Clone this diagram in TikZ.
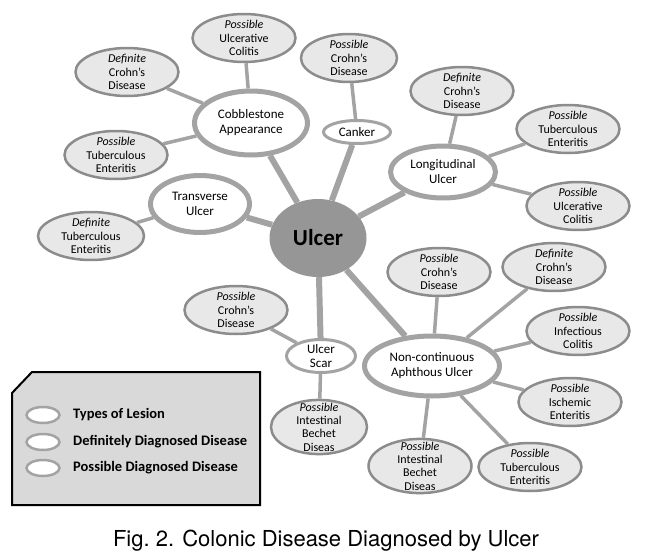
\documentclass[tikz,border=0pt]{standalone}
\usepackage{fontspec}
\setmainfont{Carlito}
\newfontfamily\capfont{TeX Gyre Heros}
\usepackage{tikz}
\usetikzlibrary{shapes.geometric, positioning}
\definecolor{mygray}{RGB}{163,163,163}
\definecolor{myhub}{RGB}{150,150,150}
\definecolor{myrim}{RGB}{140,140,140}
\definecolor{mydark}{RGB}{0,0,0}
\definecolor{hdrgray}{RGB}{232,232,232}
\definecolor{hdrlegend}{RGB}{217,217,217}
\tikzset{
  hub/.style={ellipse, fill=myhub, minimum width=97pt, minimum height=78pt,
    font=\fontsize{23}{26}\selectfont\bfseries, inner sep=0pt},
  lesion/.style={ellipse, draw=mygray, fill=white, line width=5pt,
    align=center, font=\fontsize{13}{15}\selectfont, inner sep=0pt},
  smalllesion/.style={ellipse, draw=mygray, fill=white, line width=3pt,
    align=center, font=\fontsize{13}{14}\selectfont, inner xsep=0pt, inner ysep=-3.5pt},
  leaf/.style={ellipse, draw=myrim, fill=hdrgray, line width=2.5pt,
    minimum width=103pt, minimum height=48pt, align=center,
    font=\fontsize{12}{13.3}\selectfont, inner xsep=0pt, inner ysep=-1.5pt},
  tallleaf/.style={leaf, minimum width=96pt, inner ysep=-5pt},
  spoke/.style={line width=6pt, color=mygray},
  twig/.style={line width=3.5pt, color=mygray},
  legendbox/.style={draw=mydark, fill=hdrlegend, line width=2pt},
  keyring/.style={ellipse, draw=mygray, fill=white, line width=2.5pt,
    minimum width=33pt, minimum height=16pt, inner sep=0pt},
  keytext/.style={anchor=west, inner sep=0pt, font=\fontsize{14.5}{16}\selectfont\bfseries}
}

\begin{document}
\begin{tikzpicture}[x=1pt, y=-1pt, on grid]
  \useasboundingbox (0,0) rectangle (651,557);

  % Hub
  \node[hub] (ulcer) at (318,238) {Ulcer};

  % Types of lesion
  \node[lesion, minimum width=113pt, minimum height=64pt, above left=115pt and 67pt of ulcer] (cobble) {Cobblestone\\Appearance};
  \node[smalllesion, minimum width=67pt, minimum height=23pt, above right=106pt and 39pt of ulcer] (canker) {Canker};
  \node[lesion, minimum width=105pt, minimum height=52pt, above right=66pt and 125pt of ulcer] (longi) {Longitudinal\\Ulcer};
  \node[lesion, minimum width=99pt, minimum height=57pt, above left=34pt and 118pt of ulcer] (trans) {Transverse\\Ulcer};
  \node[smalllesion, minimum width=69pt, minimum height=33pt, below right=118pt and 3pt of ulcer] (scar) {Ulcer\\Scar};
  \node[lesion, minimum width=135pt, minimum height=60pt, below right=128pt and 114pt of ulcer] (aphth) {Non-continuous\\Aphthous Ulcer};

  % Cobblestone Appearance
  \node[leaf, above left=85pt and 7pt of cobble] (cobpuc) {\textit{Possible}\\Ulcerative\\Colitis};
  \node[leaf, above left=51pt and 124pt of cobble] (cobdcd) {\textit{Definite}\\Crohn’s\\Disease};
  \node[leaf, below left=32pt and 135pt of cobble] (cobpte) {\textit{Possible}\\Tuberculous\\Enteritis};

  % Canker
  \node[leaf, minimum width=96pt, above left=74pt and 8pt of canker] (canpcd) {\textit{Possible}\\Crohn’s\\Disease};

  % Longitudinal Ulcer
  \node[leaf, above right=81pt and 19pt of longi] (londcd) {\textit{Definite}\\Crohn’s\\Disease};
  \node[leaf, above right=43pt and 125pt of longi] (lonpte) {\textit{Possible}\\Tuberculous\\Enteritis};
  \node[leaf, below right=34pt and 135pt of longi] (lonpuc) {\textit{Possible}\\Ulcerative\\Colitis};

  % Transverse Ulcer
  \node[leaf, minimum width=106pt, below left=32pt and 109pt of trans] (trsdte) {\textit{Definite}\\Tuberculous\\Enteritis};

  % Ulcer Scar
  \node[leaf, above left=46pt and 85pt of scar] (scrpcd) {\textit{Possible}\\Crohn’s\\Disease};
  \node[tallleaf, below left=71pt and 2pt of scar] (scrpib) {\textit{Possible}\\Intestinal\\Bechet\\Diseas};

  % Non-continuous Aphthous Ulcer
  \node[leaf, above right=94pt and 7pt of aphth] (aphpcd) {\textit{Possible}\\Crohn’s\\Disease};
  \node[leaf, above right=99pt and 122pt of aphth] (aphdcd) {\textit{Definite}\\Crohn’s\\Disease};
  \node[leaf, above right=35pt and 146pt of aphth] (aphpic) {\textit{Possible}\\Infectious\\Colitis};
  \node[leaf, below right=36pt and 138pt of aphth] (aphpie) {\textit{Possible}\\Ischemic\\Enteritis};
  \node[leaf, below right=101pt and 98pt of aphth] (aphpte) {\textit{Possible}\\Tuberculous\\Enteritis};
  \node[tallleaf, minimum width=103pt, below left=100pt and 12pt of aphth] (aphpib) {\textit{Possible}\\Intestinal\\Bechet\\Diseas};

  \draw[spoke] (ulcer) -- (cobble);
  \draw[spoke] (ulcer) -- (canker);
  \draw[spoke] (ulcer) -- (longi);
  \draw[spoke] (ulcer) -- (trans);
  \draw[spoke] (ulcer) -- (scar);
  \draw[spoke] (ulcer) -- (aphth);

  \draw[twig] (cobble) -- (cobpuc);
  \draw[twig] (cobble) -- (cobdcd);
  \draw[twig] (cobble) -- (cobpte);
  \draw[twig] (canker) -- (canpcd);
  \draw[twig] (longi) -- (londcd);
  \draw[twig] (longi) -- (lonpte);
  \draw[twig] (longi) -- (lonpuc);
  \draw[twig] (trans) -- (trsdte);
  \draw[twig] (scar) -- (scrpcd);
  \draw[twig] (scar) -- (scrpib);
  \draw[twig] (aphth) -- (aphpcd);
  \draw[twig] (aphth) -- (aphdcd);
  \draw[twig] (aphth) -- (aphpic);
  \draw[twig] (aphth) -- (aphpie);
  \draw[twig] (aphth) -- (aphpte);
  \draw[twig] (aphth) -- (aphpib);

  % Legend
  \draw[legendbox] (12,393) -- (32,372) -- (260,372) -- (260,505) -- (12,505) -- cycle;
  \node[keyring] (keyles) at (43,415) {};
  \node[keyring] (keydef) at (43,442) {};
  \node[keyring] (keypos) at (43,468) {};
  \node[keytext] (txtles) at (73,415) {Types of Lesion};
  \node[keytext] (txtdef) at (73,442) {Definitely Diagnosed Disease};
  \node[keytext] (txtpos) at (73,468) {Possible Diagnosed Disease};

  % Caption
  \node[font=\capfont\fontsize{22}{26}\selectfont] (caption) at (326,541) {Fig.~2. Colonic Disease Diagnosed by Ulcer};
\end{tikzpicture}
\end{document}
